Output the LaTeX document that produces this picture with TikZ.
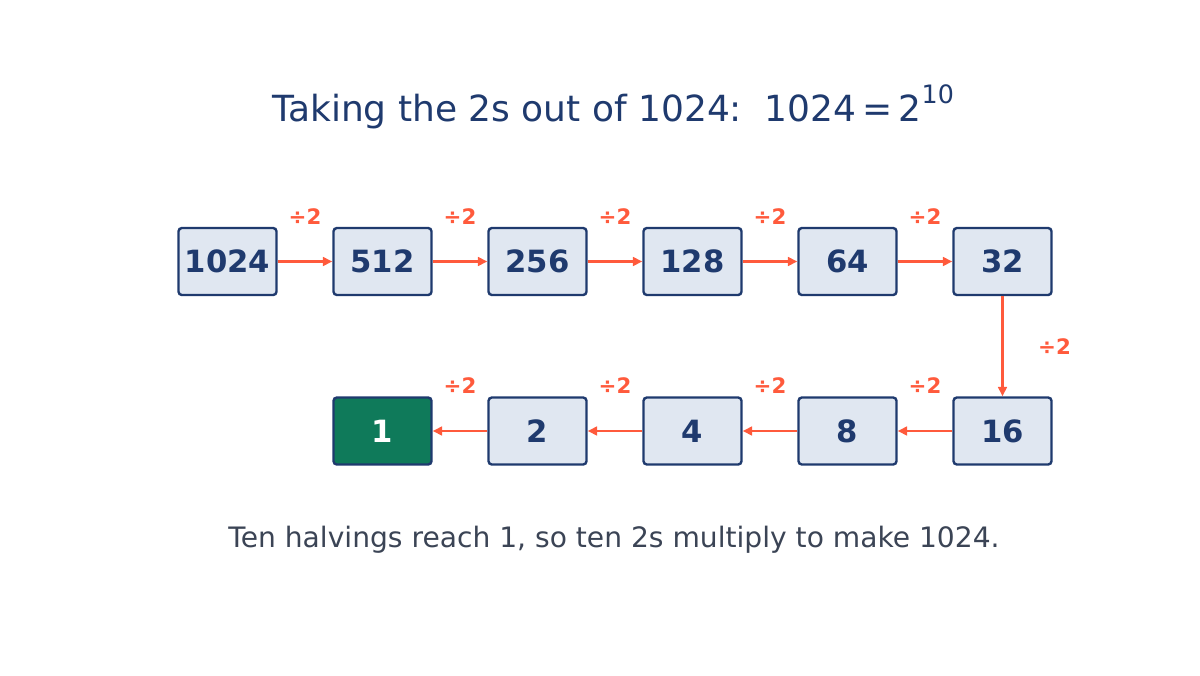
\documentclass[tikz,border=0pt]{standalone}
\usepackage{fontspec}
\setmainfont{DejaVu Sans}
\usetikzlibrary{arrows.meta,calc}
\definecolor{navy}{HTML}{1F3A6E}
\definecolor{boxfill}{HTML}{E0E7F1}
\definecolor{arrowc}{HTML}{FF5A3C}
\definecolor{greenc}{HTML}{0F7A5A}
\definecolor{notec}{HTML}{3B4455}
\begin{document}
\begin{tikzpicture}[x=0.75pt,y=-0.75pt,
  numbox/.style={draw=navy,fill=boxfill,line width=1.8pt,rounded corners=2.5pt,
    minimum width=73.5pt,minimum height=50.25pt,inner sep=0pt,
    text=navy,font=\fontsize{23}{27}\selectfont\bfseries},
  endbox/.style={numbox,fill=greenc,text=white},
  halve/.style={draw=arrowc,line width=2.2pt,-{Triangle[length=7pt,width=6.5pt]}},
  divlab/.style={text=arrowc,font=\fontsize{16}{19}\selectfont\bfseries,inner sep=0pt}]
\useasboundingbox (0,0) rectangle (1200,675);
\node[text=navy,font=\fontsize{27}{32}\selectfont,anchor=base] (title) at (613,121)
  {Taking the 2s out of 1024:\ \ 1024\,=\,2\raisebox{0.5em}{\fontsize{19}{22}\selectfont 10}};
\node[numbox] (n1024) at (227.5,261.5) {1024};
\node[numbox] (n512) at (382.5,261.5) {512};
\node[numbox] (n256) at (537.5,261.5) {256};
\node[numbox] (n128) at (692.5,261.5) {128};
\node[numbox] (n64) at (847.5,261.5) {64};
\node[numbox] (n32) at (1002.5,261.5) {32};
\node[numbox] (n16) at (1002.5,431) {16};
\node[numbox] (n8) at (847.5,431) {8};
\node[numbox] (n4) at (692.5,431) {4};
\node[numbox] (n2) at (537.5,431) {2};
\node[endbox] (n1) at (382.5,431) {1};
\foreach \a/\b in {n1024/n512,n512/n256,n256/n128,n128/n64,n64/n32}{
  \draw[halve] (\a.east) -- (\b.west);
  \node[divlab] (l-\a) at ($(\a.east)!0.5!(\b.west)+(0,-45)$) {÷2};
}
\foreach \a/\b in {n16/n8,n8/n4,n4/n2,n2/n1}{
  \draw[halve] (\a.west) -- (\b.east);
  \node[divlab] (l-\a) at ($(\a.west)!0.5!(\b.east)+(-0,-45)$) {÷2};
}
\draw[halve] (n32.south) -- (n16.north);
\node[divlab] (l-n32) at ($(n32.south)!0.5!(n16.north)+(52,0)$) {÷2};
\node[text=notec,font=\fontsize{21.1}{25}\selectfont,anchor=base] (note) at (614,547)
  {Ten halvings reach 1, so ten 2s multiply to make 1024.};
\end{tikzpicture}
\end{document}
